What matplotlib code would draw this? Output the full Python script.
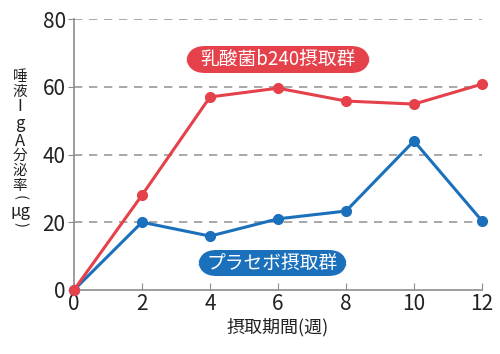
import matplotlib
matplotlib.use("Agg")
import matplotlib.pyplot as plt
from matplotlib.patches import FancyBboxPatch

plt.rcParams['font.family'] = ['Noto Sans CJK JP', 'DejaVu Sans']

# データ
weeks = [0, 2, 4, 6, 8, 10, 12]
lactic = [0, 28, 57, 59.6, 55.8, 54.9, 60.8]
placebo = [0, 20, 15.9, 21, 23.3, 44, 20.4]
lactic_label = "乳酸菌b240摂取群"
placebo_label = "プラセボ摂取群"
x_label = "摂取期間(週)"
y_label_chars = ["唾", "液", "I", "g", "A", "分", "泌", "率", "(", "μg", ")"]

RED = "#e5414b"
BLUE = "#1b70bb"
GRAY = "#8c8c8c"
W, H = 500, 354

fig = plt.figure(figsize=(5.0, 3.54), dpi=100)
ax = fig.add_axes([0.148, 0.181, 0.816, 0.765])

ax.plot(weeks, placebo, color=BLUE, lw=2.2, marker='o', ms=7, zorder=3, clip_on=False)
ax.plot(weeks, lactic, color=RED, lw=2.2, marker='o', ms=7, zorder=4, clip_on=False)

ax.set_xlim(0, 12)
ax.set_ylim(0, 80)
ax.set_xticks(weeks)
ax.set_yticks([0, 20, 40, 60, 80])
for y in [20, 40, 60, 80]:
    ax.axhline(y, color="#9a9a9a", lw=1.2, ls=(0, (5, 4)), zorder=1)

for s in ['top', 'right']:
    ax.spines[s].set_visible(False)
for s in ['left', 'bottom']:
    ax.spines[s].set_color(GRAY)
    ax.spines[s].set_linewidth(1.2)
ax.tick_params(axis='x', direction='in', length=5, color=GRAY, labelsize=15, pad=2)
ax.tick_params(axis='y', direction='out', length=4, color=GRAY, labelsize=15, pad=2)
for lab in ax.get_xticklabels() + ax.get_yticklabels():
    lab.set_color("#222222")

ax.set_xlabel(x_label, fontsize=13, color="#222222", labelpad=2)

# 縦書きのY軸ラベル (ピクセル位置)
y_pos = [77, 92, 107, 123, 141, 156, 171, 186, 198, 211, 225]
for ch, yp in zip(y_label_chars, y_pos):
    rot = -90 if ch in "()" else 0
    size = 12 if ch in "IgAμg" else 10.5
    fig.text(20 / W, 1 - yp / H, ch, fontsize=size, color="#222222",
             ha='center', va='center', rotation=rot)


def pill(x0, y0, x1, y1, color, text):
    # ピクセル座標で角丸ボックスを描く
    h = (y1 - y0) / H
    box = FancyBboxPatch((x0 / W, 1 - y1 / H), (x1 - x0) / W, h,
                         boxstyle="round,pad=0,rounding_size=%f" % (h / 2),
                         transform=fig.transFigure, fc=color, ec="none",
                         mutation_aspect=W / H, zorder=5)
    fig.patches.append(box)
    fig.text((x0 + x1) / 2 / W, 1 - (y0 + y1) / 2 / H, text, fontsize=13.5,
             color="white", ha='center', va='center', zorder=6)


pill(186, 46, 370, 73, RED, lactic_label)
pill(198, 250, 347, 276, BLUE, placebo_label)

fig.savefig("out.png", dpi=100)
